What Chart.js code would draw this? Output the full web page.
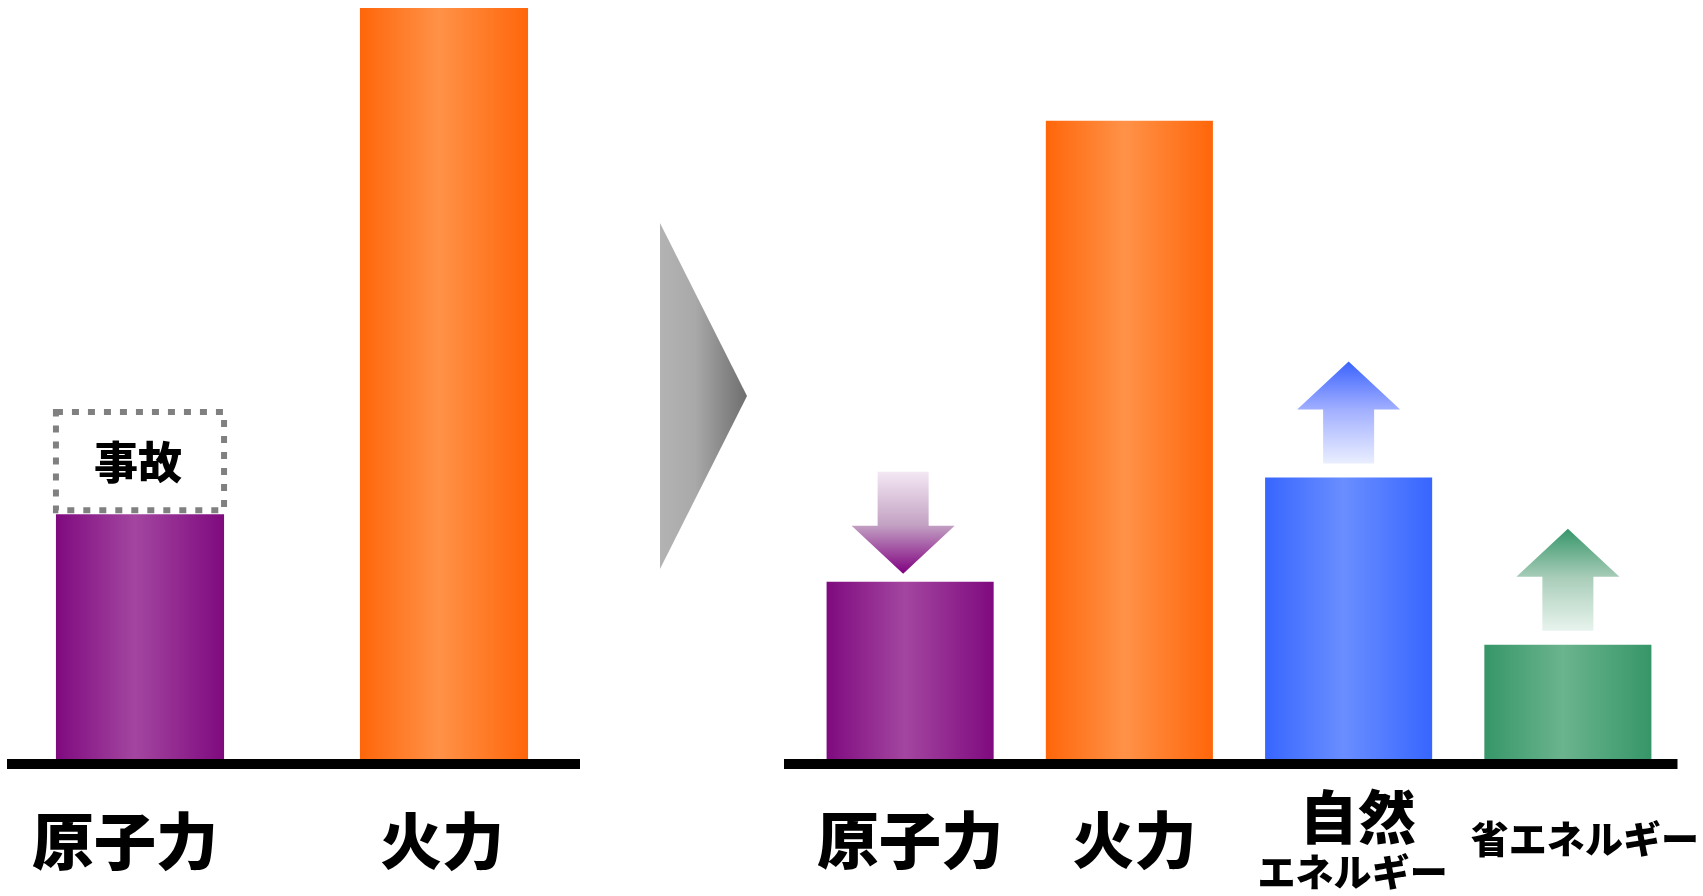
<!DOCTYPE html>
<html>
<head>
<meta charset="utf-8">
<script src="https://cdn.jsdelivr.net/npm/chart.js@4.4.0/dist/chart.umd.min.js"></script>
<style>
    html, body { margin: 0; padding: 0; background: #fff; }
    body { width: 1703px; height: 896px; position: relative; overflow: hidden; }
    .panel { position: absolute; top: 0; height: 896px; }
    #before { left: 0; width: 600px; }
    #after { left: 780px; width: 923px; }
    #shift {
        position: absolute; left: 660px; top: 223px; width: 87px; height: 346px;
        clip-path: polygon(0 0, 100% 50%, 0 100%);
        background: linear-gradient(to right, #b3b3b3 0%, #a9a9a9 40%, #6e6e6e 100%);
    }
</style>
</head>
<body>
<div class="panel" id="before"><canvas id="beforeChart"></canvas></div>
<div id="shift"></div>
<div class="panel" id="after"><canvas id="afterChart"></canvas></div>
<script>
// power mix, scaled so that thermal (left) = 100
const beforeLabels = ['原子力', '火力'];
const beforeValues = [32.6, 100];
const accidentTop = 46.6; // nuclear before the accident
const accidentLabel = '事故';

const afterLabels = ['原子力', '火力', ['自然', 'エネルギー'], '省エネルギー'];
const afterValues = [23.6, 85.0, 37.5, 15.2];
const afterTrend = ['down', null, 'up', 'up'];

const JP = '"Noto Sans CJK JP", "Noto Sans CJK SC", sans-serif';

// [edge, middle] of each bar's shading
const purple = ['#7f0a7f', '#a346a0'];
const orange = ['#ff660a', '#ff9248'];
const blue = ['#3766ff', '#6a8eff'];
const green = ['#369668', '#6bb48d'];

const barShade = {
    id: 'barShade',
    beforeDatasetsDraw(chart, args, opts) {
        const ctx = chart.ctx;
        chart.getDatasetMeta(0).data.forEach((bar, i) => {
            const [edge, mid] = opts.colors[i];
            const g = ctx.createLinearGradient(bar.x - bar.width / 2, 0, bar.x + bar.width / 2, 0);
            g.addColorStop(0, edge);
            g.addColorStop(0.47, mid);
            g.addColorStop(1, edge);
            bar.options.backgroundColor = g;
        });
    }
};

const baseline = {
    id: 'baseline',
    afterDatasetsDraw(chart, args, opts) {
        const { ctx, chartArea, scales: { y } } = chart;
        const y0 = y.getPixelForValue(0);
        ctx.save();
        ctx.fillStyle = '#000';
        ctx.fillRect(chartArea.left - opts.extendLeft, y0,
            chartArea.right - chartArea.left + opts.extendLeft + opts.extendRight, opts.width);
        ctx.restore();
    }
};

const categoryText = {
    id: 'categoryText',
    afterDraw(chart, args, opts) {
        const { ctx, scales: { x, y } } = chart;
        const y0 = y.getPixelForValue(0);
        ctx.save();
        ctx.fillStyle = '#000';
        ctx.textAlign = 'center';
        ctx.textBaseline = 'middle';
        chart.data.labels.forEach((label, i) => {
            const st = opts.styles[i];
            [].concat(label).forEach((line, k) => {
                ctx.font = `900 ${st.size[k]}px ${JP}`;
                ctx.fillText(line, x.getPixelForValue(i) + st.dx[k], y0 + st.dy[k]);
            });
        });
        ctx.restore();
    }
};

const accidentBox = {
    id: 'accidentBox',
    afterDatasetsDraw(chart, args, opts) {
        const { ctx, scales: { y } } = chart;
        const bar = chart.getDatasetMeta(0).data[0];
        const top = y.getPixelForValue(accidentTop) + opts.lineWidth / 2;
        const bottom = bar.y - 4;
        ctx.save();
        ctx.strokeStyle = '#808080';
        ctx.lineWidth = opts.lineWidth;
        ctx.setLineDash([7, 9]);
        ctx.strokeRect(bar.x - bar.width / 2, top, bar.width, bottom - top);
        ctx.setLineDash([]);
        ctx.fillStyle = '#000';
        ctx.textAlign = 'center';
        ctx.textBaseline = 'middle';
        ctx.font = `900 44px ${JP}`;
        ctx.fillText(accidentLabel, bar.x - 2, (top + bottom) / 2 + 1);
        ctx.restore();
    }
};

const trendArrows = {
    id: 'trendArrows',
    afterDatasetsDraw(chart, args, opts) {
        const ctx = chart.ctx;
        const { headW, headH, shaftW, shaftH } = opts;
        chart.getDatasetMeta(0).data.forEach((bar, i) => {
            const dir = afterTrend[i];
            if (!dir) return;
            const cx = bar.x + opts.dx[i];
            let tipY, tailY, neckY;
            if (dir === 'up') {
                tailY = bar.y - opts.gapUp;
                tipY = tailY - headH - shaftH;
                neckY = tipY + headH;
            } else {
                tipY = bar.y - opts.gapDown;
                tailY = tipY - headH - shaftH;
                neckY = tipY - headH;
            }
            ctx.save();
            ctx.beginPath();
            ctx.moveTo(cx - shaftW / 2, tailY);
            ctx.lineTo(cx - shaftW / 2, neckY);
            ctx.lineTo(cx - headW / 2, neckY);
            ctx.lineTo(cx, tipY);
            ctx.lineTo(cx + headW / 2, neckY);
            ctx.lineTo(cx + shaftW / 2, neckY);
            ctx.lineTo(cx + shaftW / 2, tailY);
            ctx.closePath();
            const [tail, mid, tip] = opts.colors[i];
            const g = ctx.createLinearGradient(0, tailY, 0, tipY);
            g.addColorStop(0, tail);
            g.addColorStop(0.52, mid);
            g.addColorStop(1, tip);
            ctx.fillStyle = g;
            ctx.fill();
            ctx.restore();
        });
    }
};

const beforeCtx = document.getElementById('beforeChart').getContext('2d');
new Chart(beforeCtx, {
    type: 'bar',
    data: {
        labels: beforeLabels,
        datasets: [{
            data: beforeValues,
            backgroundColor: (c) => [purple, orange][c.dataIndex][0],
            borderWidth: 0,
            clip: false,
            categoryPercentage: 1,
            barPercentage: 0.553
        }]
    },
    options: {
        responsive: true,
        maintainAspectRatio: false,
        animation: false,
        events: [],
        layout: { padding: { left: 140, right: 156, top: 8, bottom: 137 } },
        scales: {
            x: { display: false, offset: false },
            y: { display: false, min: 0, max: 100 }
        },
        plugins: {
            legend: { display: false },
            tooltip: { enabled: false },
            barShade: { colors: [purple, orange] },
            baseline: { extendLeft: 133, extendRight: 136, width: 10 },
            accidentBox: { lineWidth: 6 },
            categoryText: {
                styles: [
                    { size: [62], dx: [-15], dy: [82] },
                    { size: [62], dx: [-2], dy: [82] }
                ]
            }
        }
    },
    plugins: [barShade, baseline, accidentBox, categoryText]
});

const afterCtx = document.getElementById('afterChart').getContext('2d');
new Chart(afterCtx, {
    type: 'bar',
    data: {
        labels: afterLabels,
        datasets: [{
            data: afterValues,
            backgroundColor: (c) => [purple, orange, blue, green][c.dataIndex][0],
            borderWidth: 0,
            categoryPercentage: 1,
            barPercentage: 0.762
        }]
    },
    options: {
        responsive: true,
        maintainAspectRatio: false,
        animation: false,
        events: [],
        layout: { padding: { left: 20.5, right: 25.5, top: 8, bottom: 137 } },
        scales: {
            x: { display: false, offset: true },
            y: { display: false, min: 0, max: 100 }
        },
        plugins: {
            legend: { display: false },
            tooltip: { enabled: false },
            barShade: { colors: [purple, orange, blue, green] },
            baseline: { extendLeft: 16.5, extendRight: 0, width: 10 },
            trendArrows: {
                headW: 103, headH: 48, shaftW: 51, shaftH: 54,
                gapUp: 14, gapDown: 8,
                dx: [-7, 0, 0, 0],
                colors: [
                    ['#f4e8f4', '#c3a2c3', '#800080'],
                    null,
                    ['#e9eeff', '#a3b0ff', '#3a63ff'],
                    ['#e8f4ee', '#a9cdb9', '#36966a']
                ]
            },
            categoryText: {
                styles: [
                    { size: [62], dx: [0], dy: [81] },
                    { size: [62], dx: [5], dy: [81] },
                    { size: [58, 38], dx: [9, 4], dy: [58, 113] },
                    { size: [38], dx: [17], dy: [80] }
                ]
            }
        }
    },
    plugins: [barShade, baseline, trendArrows, categoryText]
});
</script>
</body>
</html>
